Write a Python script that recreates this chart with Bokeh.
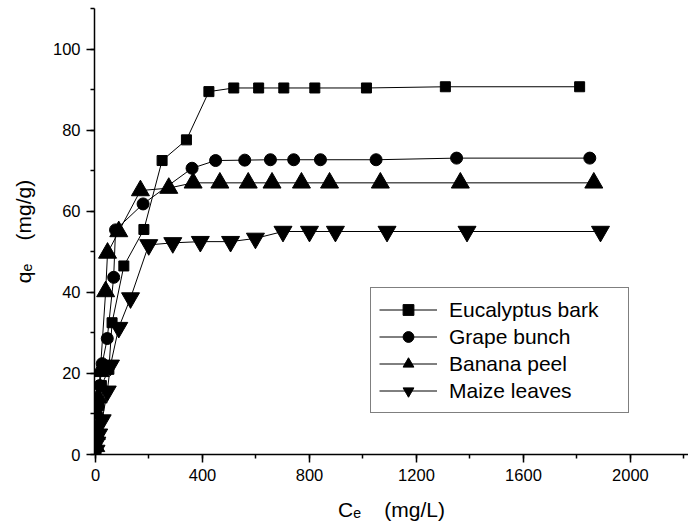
from bokeh.plotting import figure
from bokeh.models import Range1d, SingleIntervalTicker, Legend, LegendItem
from bokeh.embed import file_html
from bokeh.resources import INLINE

FONT = "Liberation Sans"

# ---- data ----
euc_x = [2, 6, 12, 22, 50, 62, 106, 181, 249, 340, 424, 517, 610, 704, 820, 1013, 1308, 1810]
euc_y = [1, 5, 12, 17, 21, 32.5, 46.5, 55.5, 72.5, 77.6, 89.5, 90.4, 90.4, 90.4, 90.4, 90.4, 90.7, 90.7]

grape_x = [2, 5, 10, 16, 25, 44, 68, 75, 178, 361, 449, 558, 654, 741, 841, 1049, 1350, 1848]
grape_y = [2, 7, 12, 17, 22.4, 28.6, 43.7, 55.4, 61.8, 70.6, 72.5, 72.6, 72.7, 72.7, 72.7, 72.7, 73.1, 73.1]

banana_x = [1, 3, 6, 10, 18, 38, 45, 87, 168, 274, 365, 465, 571, 660, 770, 875, 1065, 1364, 1863]
banana_y = [2, 5, 10, 14, 20.5, 40.2, 49.7, 55.0, 65.1, 65.7, 67.0, 67.0, 67.0, 67.0, 67.0, 67.0, 67.0, 67.0, 67.0]

maize_x = [2, 5, 12, 25, 44, 56, 87, 131, 199, 289, 392, 505, 598, 701, 800, 897, 1090, 1389, 1888]
maize_y = [1, 3, 5, 8.5, 15.6, 22, 31.3, 38.6, 51.7, 52.2, 52.5, 52.5, 53.3, 55.0, 55.0, 55.0, 55.0, 55.0, 55.0]

series_names = ["Eucalyptus bark", "Grape bunch", "Banana peel", "Maize leaves"]
NB = "\u00a0"
x_title = "C\u2091" + NB * 4 + "(mg/L)"
y_title = "q\u2091" + NB * 4 + "(mg/g)"

series = [
    (series_names[0], euc_x, euc_y, "square", 10),
    (series_names[1], grape_x, grape_y, "circle", 12),
    (series_names[2], banana_x, banana_y, "triangle", 18),
    (series_names[3], maize_x, maize_y, "inverted_triangle", 18),
]

p = figure(width=688, height=531, output_backend="svg", toolbar_location=None,
           x_range=Range1d(-3.7, 2217), y_range=Range1d(0, 110),
           min_border_left=94, min_border_right=0, min_border_top=8,
           min_border_bottom=77)
p.outline_line_color = None
p.grid.visible = False
p.background_fill_color = "white"
p.border_fill_color = "white"

p.xaxis.ticker = SingleIntervalTicker(interval=400, num_minor_ticks=2)
p.yaxis.ticker = SingleIntervalTicker(interval=20, num_minor_ticks=2)
for ax in (p.xaxis[0], p.yaxis[0]):
    ax.axis_line_width = 1.5
    ax.axis_line_color = "black"
    ax.major_tick_out = 8
    ax.major_tick_in = 0
    ax.minor_tick_out = 4
    ax.minor_tick_in = 0
    ax.major_tick_line_width = 1.5
    ax.minor_tick_line_width = 1.5
    ax.major_tick_line_color = "black"
    ax.minor_tick_line_color = "black"
    ax.major_label_text_font = FONT
    ax.major_label_text_font_size = "16.5px"
    ax.major_label_text_color = "black"
    ax.major_label_standoff = 6
    ax.axis_label_text_font = FONT
    ax.axis_label_text_font_size = "21px"
    ax.axis_label_text_font_style = "normal"
    ax.axis_label_text_color = "black"

p.xaxis.axis_label = x_title
p.yaxis.axis_label = y_title
p.xaxis.axis_label_standoff = 14
p.yaxis.axis_label_standoff = 15

items = []
for name, xs, ys, marker, size in series:
    ln = p.line(xs, ys, line_color="black", line_width=1)
    sc = p.scatter(xs, ys, marker=marker, size=size, fill_color="black", line_color="black")
    items.append(LegendItem(label=name, renderers=[ln, sc]))

legend = Legend(items=items, location=(276, 41), margin=0, padding=8, spacing=0,
                glyph_width=58, glyph_height=27, label_height=27, label_width=171,
                label_standoff=12, label_text_font=FONT, label_text_font_size="21px",
                label_text_color="black", border_line_color="black", border_line_width=1,
                background_fill_color="white", background_fill_alpha=1.0)
p.add_layout(legend)

open("out.html", "w").write(file_html(p, INLINE))
